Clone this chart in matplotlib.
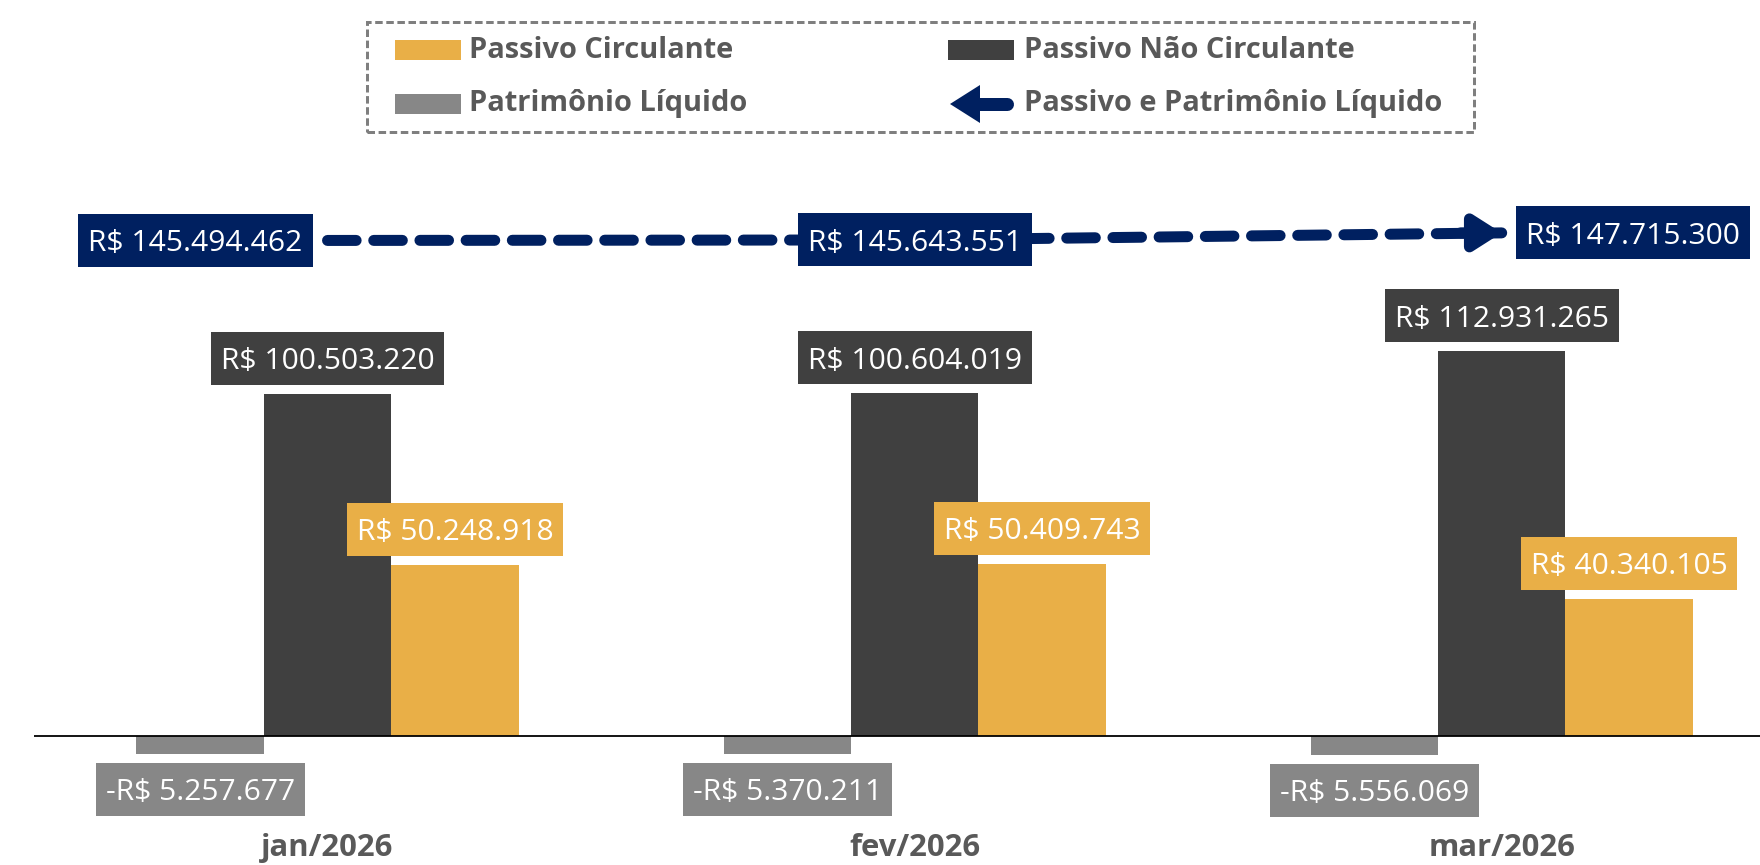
import matplotlib
matplotlib.use("Agg")
import matplotlib.pyplot as plt
from matplotlib.patches import Rectangle, Polygon
from matplotlib.lines import Line2D
import matplotlib.transforms as mtransforms

plt.rcParams['font.family'] = ['Open Sans', 'DejaVu Sans']

categories = ["jan/2026", "fev/2026", "mar/2026"]
patrimonio = [-5257677, -5370211, -5556069]
nao_circulante = [100503220, 100604019, 112931265]
circulante = [50248918, 50409743, 40340105]
total = [145494462, 145643551, 147715300]

legend_labels = ["Passivo Circulante", "Passivo Não Circulante",
                 "Patrimônio Líquido", "Passivo e Patrimônio Líquido"]

C_YEL = "#E9AF47"
C_DARK = "#404040"
C_GRAY = "#878787"
C_NAVY = "#002060"
C_TXT = "#595959"

def fmt(v):
    s = f"{abs(v):,}".replace(",", ".")
    return ("-R$ " if v < 0 else "R$ ") + s

W, H = 1760, 865
fig = plt.figure(figsize=(W / 72, H / 72), dpi=72)
ax = fig.add_axes([34 / W, 0, 1 - 34 / W, 1])
ax.set_xlim(-0.5, 2.44)
ax.set_ylim(-37.9e6, 216.1e6)
ax.axis("off")

bw = 0.217
x = list(range(len(categories)))
ax.bar([i - bw for i in x], patrimonio, width=bw, color=C_GRAY, zorder=2)
ax.bar(x, nao_circulante, width=bw, color=C_DARK, zorder=2)
ax.bar([i + bw for i in x], circulante, width=bw, color=C_YEL, zorder=2)
ax.axhline(0, color="#000000", lw=1.8, zorder=3)

FS = 30
BOX_H = 53
PADX = 10
renderer = fig.canvas.get_renderer()
ident = mtransforms.IdentityTransform()

def label(xd, yd, s, fc, mode, gap=10):
    px, py = ax.transData.transform((xd, yd))
    t = ax.text(0, 0, s, fontsize=FS, color="white", ha="center",
                va="baseline", transform=ident, zorder=7)
    w = t.get_window_extent(renderer).width + 2 * PADX
    if mode == "above":
        cx, cy = px, py + gap + BOX_H / 2
    elif mode == "below":
        cx, cy = px, py - gap - BOX_H / 2
    elif mode == "left":
        cx, cy = px - gap - w / 2, py
    elif mode == "right":
        cx, cy = px + gap + w / 2, py
    else:
        cx, cy = px, py
    t.set_position((cx, cy - 0.714 * FS / 2))
    ax.add_patch(Rectangle((cx - w / 2, cy - BOX_H / 2), w, BOX_H, transform=ident,
                           fc=fc, ec="none", zorder=6))

blend = mtransforms.blended_transform_factory(ax.transData, fig.transFigure)
for i in x:
    label(i, nao_circulante[i], fmt(nao_circulante[i]), C_DARK, "above", 9)
    label(i + bw, circulante[i], fmt(circulante[i]), C_YEL, "above", 9)
    label(i - bw, patrimonio[i], fmt(patrimonio[i]), C_GRAY, "below", 9)
    ax.text(i, 1 - 848 / H, categories[i], transform=blend,
            ha="center", va="center", fontsize=31, fontweight="bold", color=C_TXT)

# line
ax.plot(x, total, color=C_NAVY, lw=11, linestyle=(0, (2.6, 1.6)),
        dash_capstyle="round", solid_capstyle="round", zorder=4)
ax.annotate("", xy=(x[-1], total[-1]), xytext=(x[-1] - 0.07, total[-1]),
            arrowprops=dict(arrowstyle="-|>,head_length=2.2,head_width=1.4",
                            color=C_NAVY, lw=11, shrinkA=0, shrinkB=0), zorder=4)
label(x[0], total[0], fmt(total[0]), C_NAVY, "left", 15)
label(x[1], total[1], fmt(total[1]), C_NAVY, "center")
label(x[2], total[2], fmt(total[2]), C_NAVY, "right", 14)

# legend (figure pixel coords, top-left origin)
def fx(px):
    return px / W

def fy(py):
    return 1 - py / H

fig.patches.append(Rectangle((fx(367), fy(132)), fx(1474 - 367), (132 - 22) / H,
                             transform=fig.transFigure, fill=False, ec="#7F7F7F",
                             lw=3, ls=(0, (2.5, 1.2))))
rows = [50, 104]
cols = [(395, 469), (948, 1024)]
colors = [C_YEL, C_DARK, C_GRAY]
for k, lab in enumerate(legend_labels):
    r, c = divmod(k, 2)
    px0, tx = cols[c]
    cy = rows[r]
    if k < 3:
        fig.patches.append(Rectangle((fx(px0), fy(cy + 10)), fx(66), 20 / H,
                                     transform=fig.transFigure, fc=colors[k], ec="none"))
    else:
        fig.lines.append(Line2D([fx(975), fx(1007)], [fy(cy), fy(cy)],
                                transform=fig.transFigure, color=C_NAVY, lw=13,
                                solid_capstyle="round"))
        fig.patches.append(Polygon([(fx(950), fy(cy)), (fx(980), fy(cy - 19)),
                                    (fx(980), fy(cy + 19))], closed=True,
                                   transform=fig.transFigure, fc=C_NAVY, ec="none"))
    fig.text(fx(tx), fy(cy), lab, ha="left", va="center", fontsize=29,
             fontweight="bold", color=C_TXT)

fig.savefig("out.png", dpi=72, facecolor="white")
